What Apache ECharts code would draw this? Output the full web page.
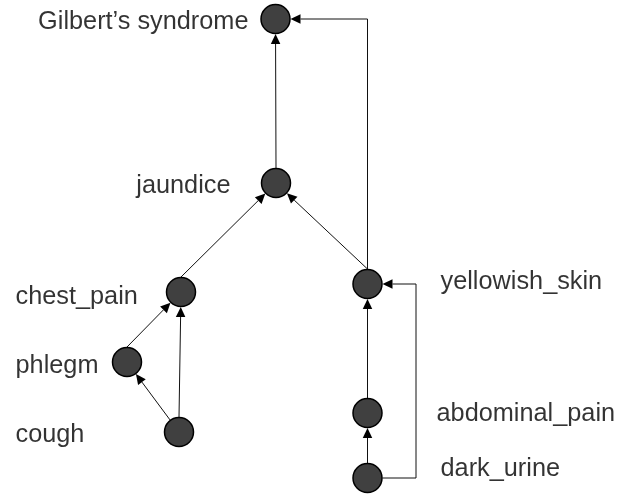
<!DOCTYPE html>
<html><head><meta charset="utf-8">
<script src="https://cdn.jsdelivr.net/npm/echarts@6/dist/echarts.min.js"></script>
<style>html,body{margin:0;padding:0;background:#fff}#c{width:637px;height:496px}</style>
</head><body><div id="c"></div>
<script>
// Nodes (data units of a hidden 637x496 cartesian plane)
const nodeNames = ['Gilbert’s syndrome','jaundice','chest_pain','phlegm','cough','yellowish_skin','abdominal_pain','dark_urine'];
const nodeX = [275.5, 276, 181, 127, 179, 367.5, 367.5, 367.5];
const nodeY = [19, 183, 292, 362, 432, 284, 413, 478];
// Label anchors and alignment
const labelX = [249, 231, 15, 15, 15, 440, 436, 440];
const labelY = [22.5, 186, 297, 366, 435, 282, 414, 469.5];
const labelAlign = ['right','right','left','left','left','left','left','left'];
// Edges
const edgeFrom = ['jaundice','chest_pain','yellowish_skin','yellowish_skin','phlegm','cough','cough','abdominal_pain','dark_urine','dark_urine'];
const edgeTo = ['Gilbert’s syndrome','jaundice','jaundice','Gilbert’s syndrome','chest_pain','phlegm','chest_pain','yellowish_skin','abdominal_pain','yellowish_skin'];
const edgeRoute = ['top','top','top','elbowUp','top','center','top','top','top','elbowRight'];
const edgeBendX = [null,null,null,null,null,null,null,null,null,416];

const idx = n => nodeNames.indexOf(n);
const R = 15, AL = 10, AW = 9.5;

function renderItem(params, api) {
  const i = params.dataIndex;
  const s = api.coord([api.value(0), api.value(1)]);
  const t = api.coord([api.value(2), api.value(3)]);
  const route = edgeRoute[i];
  let pts;
  if (route === 'elbowUp') {
    pts = [[s[0], s[1] - R], [s[0], t[1]], [t[0] + R, t[1]]];
  } else if (route === 'elbowRight') {
    const bx = api.coord([edgeBendX[i], 0])[0];
    pts = [[s[0] + R, s[1]], [bx, s[1]], [bx, t[1]], [t[0] + R, t[1]]];
  } else {
    let st;
    if (route === 'top') st = [s[0], s[1] - R];
    else {
      const dx = t[0] - s[0], dy = t[1] - s[1], d = Math.hypot(dx, dy);
      st = [s[0] + dx / d * R, s[1] + dy / d * R];
    }
    const dx = t[0] - st[0], dy = t[1] - st[1], d = Math.hypot(dx, dy);
    pts = [st, [t[0] - dx / d * R, t[1] - dy / d * R]];
  }
  const n = pts.length, tip = pts[n - 1], prev = pts[n - 2];
  const dx = tip[0] - prev[0], dy = tip[1] - prev[1], d = Math.hypot(dx, dy);
  const ux = dx / d, uy = dy / d;
  const base = [tip[0] - ux * AL, tip[1] - uy * AL];
  const linePts = pts.slice(0, n - 1).concat([base]);
  const arrow = [tip, [base[0] - uy * AW / 2, base[1] + ux * AW / 2], [base[0] + uy * AW / 2, base[1] - ux * AW / 2]];
  return {
    type: 'group',
    children: [
      { type: 'polyline', shape: { points: linePts }, style: { stroke: '#111', lineWidth: 1, fill: null } },
      { type: 'polygon', shape: { points: arrow }, style: { fill: '#000', stroke: null } }
    ]
  };
}

const chart = echarts.init(document.getElementById('c'), null, { renderer: 'canvas' });
chart.setOption({
  animation: false,
  backgroundColor: '#fff',
  grid: { left: 0, right: 0, top: 0, bottom: 0 },
  xAxis: { type: 'value', min: 0, max: 637, show: false },
  yAxis: { type: 'value', min: 0, max: 496, inverse: true, show: false },
  series: [
    {
      type: 'custom',
      z: 1,
      renderItem: renderItem,
      encode: { x: [0, 2], y: [1, 3] },
      data: edgeFrom.map((f, i) => [nodeX[idx(f)], nodeY[idx(f)], nodeX[idx(edgeTo[i])], nodeY[idx(edgeTo[i])]]),
      silent: true
    },
    {
      type: 'scatter',
      z: 3,
      symbol: 'circle',
      symbolSize: 29,
      itemStyle: { color: '#404040', borderColor: '#000', borderWidth: 1.5, opacity: 1 },
      data: nodeNames.map((n, i) => ({ name: n, value: [nodeX[i], nodeY[i]] })),
      silent: true
    },
    {
      type: 'scatter',
      z: 4,
      symbol: 'circle',
      symbolSize: 1,
      itemStyle: { color: 'rgba(255,255,255,0)' },
      data: nodeNames.map((n, i) => ({
        name: n,
        value: [labelX[i], labelY[i]],
        label: { position: labelAlign[i] === 'right' ? 'left' : 'right' }
      })),
      label: {
        show: true,
        distance: 0,
        formatter: p => p.name,
        color: '#000',
        fontSize: 25.3,
        fontFamily: 'Liberation Sans, Arial, sans-serif',
        verticalAlign: 'middle'
      },
      silent: true
    }
  ]
});
</script>
</body></html>
